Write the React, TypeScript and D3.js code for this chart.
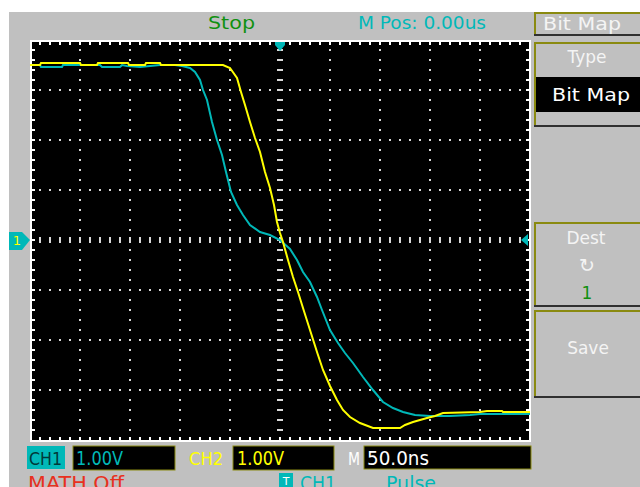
import React from 'react';
import * as d3 from 'd3';

// CH1 trace (cyan): time in ns, level in volts
const ch1Time = [-250, -240, -239, -218, -217, -180, -178, -160, -158, -153, -140, -130, -120, -105, -98, -90, -85, -80, -77, -73, -68, -63, -58, -54, -49, -43, -37, -30, -20, -10, 0, 10, 17, 23, 30, 37, 42, 50, 58, 65, 73, 83, 93, 103, 113, 123, 135, 150, 170, 190, 200, 250];
const ch1Volts = [3.5, 3.5, 3.46, 3.46, 3.5, 3.5, 3.46, 3.46, 3.5, 3.48, 3.46, 3.48, 3.5, 3.5, 3.48, 3.44, 3.36, 3.2, 3.0, 2.8, 2.36, 2.0, 1.7, 1.36, 0.96, 0.7, 0.5, 0.3, 0.16, 0.1, 0, -0.18, -0.4, -0.64, -0.84, -1.14, -1.4, -1.8, -2.06, -2.26, -2.46, -2.74, -3.0, -3.24, -3.36, -3.44, -3.5, -3.52, -3.52, -3.5, -3.48, -3.48];

// CH2 trace (yellow)
const ch2Time = [-250, -240, -239, -200, -199, -183, -182, -152, -151, -135, -134, -120, -119, -57, -50, -43, -39, -35, -30, -25, -20, -15, -10, -6, -3, 0, 3, 8, 13, 18, 23, 30, 37, 43, 50, 57, 63, 70, 80, 93, 120, 125, 133, 140, 147, 155, 163, 200, 207, 222, 223, 250];
const ch2Volts = [3.5, 3.5, 3.54, 3.54, 3.5, 3.5, 3.54, 3.54, 3.5, 3.5, 3.54, 3.54, 3.5, 3.5, 3.44, 3.24, 2.96, 2.7, 2.36, 2.04, 1.76, 1.36, 1.04, 0.7, 0.36, 0.14, -0.04, -0.4, -0.74, -1.04, -1.36, -1.8, -2.24, -2.6, -2.92, -3.2, -3.4, -3.54, -3.66, -3.76, -3.76, -3.7, -3.64, -3.6, -3.56, -3.52, -3.46, -3.44, -3.42, -3.42, -3.44, -3.44];

const timeDomain = [-250, 250]; // 50ns/div, 10 div
const voltDomain = [-4, 4]; // 1.00V/div, 8 div

const GREY = '#c0c0c0';
const CYAN = '#00b8b8';
const YELLOW = '#ffff00';
const OLIVE = '#8a8a10';
const DOT = '#d8d8d8';
const FONT = '"DejaVu Sans", sans-serif';

const x = d3.scaleLinear().domain(timeDomain).range([30, 530]);
const y = d3.scaleLinear().domain(voltDomain).range([440, 40]);

const line = d3.line<[number, number]>()
  .x(d => x(d[0]))
  .y(d => y(d[1]));

const ch1 = ch1Time.map((t, i) => [t, ch1Volts[i]] as [number, number]);
const ch2 = ch2Time.map((t, i) => [t, ch2Volts[i]] as [number, number]);

function Grid() {
  const xs = d3.range(-200, 251, 50).filter(v => v !== 0 && v !== 250);
  const ys = d3.range(-3, 4, 1).filter(v => v !== 0);
  const xSteps = d3.range(-240, 241, 10);
  const ySteps = d3.range(-3.8, 3.81, 0.2);
  const marks: JSX.Element[] = [];
  xs.forEach(gx => ySteps.forEach((v, i) =>
    marks.push(<rect key={`v${gx}-${i}`} x={x(gx) - 1} y={y(v) - 1} width={2} height={2} fill={DOT} />)));
  ys.forEach(gy => xSteps.forEach(t =>
    marks.push(<rect key={`h${gy}-${t}`} x={x(t) - 1} y={y(gy) - 1} width={2} height={2} fill={DOT} />)));
  // center axes
  xSteps.forEach(t =>
    marks.push(<rect key={`cx${t}`} x={x(t) - 1} y={y(0) - 3} width={2} height={6} fill={DOT} />));
  ySteps.forEach((v, i) =>
    marks.push(<rect key={`cy${i}`} x={x(0) - 3} y={y(v) - 1} width={6} height={2} fill={DOT} />));
  // border ticks
  xSteps.forEach(t => {
    marks.push(<rect key={`tt${t}`} x={x(t) - 1} y={40} width={2} height={5} fill="#fff" />);
    marks.push(<rect key={`tb${t}`} x={x(t) - 1} y={437} width={2} height={5} fill="#fff" />);
  });
  ySteps.forEach((v, i) => {
    marks.push(<rect key={`tl${i}`} x={30} y={y(v) - 1} width={5} height={2} fill="#fff" />);
    marks.push(<rect key={`tr${i}`} x={526} y={y(v) - 1} width={5} height={2} fill="#fff" />);
  });
  return <g>{marks}</g>;
}

function MenuBox({ top, height }: { top: number; height: number }) {
  return (
    <g>
      <rect x={534} y={top} width={106} height={height} fill={GREY} />
      <line x1={535} y1={top} x2={535} y2={top + height} stroke={OLIVE} strokeWidth={2} />
      <line x1={534} y1={top + 1} x2={640} y2={top + 1} stroke={OLIVE} strokeWidth={2} />
      <line x1={534} y1={top + height} x2={640} y2={top + height} stroke="#303030" strokeWidth={2} />
    </g>
  );
}

export default function App() {
  return (
    <svg width={640} height={487} style={{ position: 'absolute', left: 0, top: 0 }}
      fontFamily={FONT}>
      <rect x={0} y={0} width={640} height={487} fill="#fff" />
      <rect x={9} y={12} width={631} height={475} fill={GREY} />

      {/* header */}
      <text x={208} y={29} fontSize={18} fill="#109010" textLength={47} lengthAdjust="spacingAndGlyphs">Stop</text>
      <text x={358} y={29} fontSize={17} fill={CYAN} textLength={128} lengthAdjust="spacingAndGlyphs">M Pos: 0.00us</text>

      {/* screen */}
      <rect x={30} y={40} width={501} height={402} fill="#000" />
      <Grid />
      <line x1={30} y1={41} x2={531} y2={41} stroke="#fff" strokeWidth={2} />
      <line x1={30} y1={441} x2={531} y2={441} stroke="#fff" strokeWidth={2} />
      <line x1={31} y1={40} x2={31} y2={442} stroke="#fff" strokeWidth={2} />
      <line x1={530} y1={40} x2={530} y2={442} stroke="#fff" strokeWidth={2} />

      <path d={line(ch1) ?? ''} fill="none" stroke={CYAN} strokeWidth={2} strokeLinejoin="miter" />
      <path d={line(ch2) ?? ''} fill="none" stroke={YELLOW} strokeWidth={2} strokeLinejoin="miter" />

      {/* markers */}
      <path d={`M${x(0) - 5},42 L${x(0) + 5},42 L${x(0) + 5},45 L${x(0)},51 L${x(0) - 5},45 Z`} fill={CYAN} />
      <path d={`M521,${y(0)} L528,${y(0) - 6} L528,${y(0) + 6} Z`} fill={CYAN} />
      <path d={`M9,232 L22,232 L30,${y(0)} L22,250 L9,250 Z`} fill={CYAN} />
      <text x={17} y={y(0) + 5} fontSize={13} fill={YELLOW} textAnchor="middle">1</text>

      {/* right menu */}
      <MenuBox top={12} height={23} />
      <text x={543} y={30} fontSize={17} fill="#f4f4f4" textLength={78} lengthAdjust="spacingAndGlyphs">Bit Map</text>
      <MenuBox top={42} height={84} />
      <text x={587} y={63} fontSize={17} fill="#f4f4f4" textAnchor="middle">Type</text>
      <rect x={536} y={77} width={104} height={35} fill="#000" />
      <text x={552} y={101} fontSize={17} fill="#fff" textLength={78} lengthAdjust="spacingAndGlyphs">Bit Map</text>
      <MenuBox top={222} height={84} />
      <text x={586} y={244} fontSize={17} fill="#f4f4f4" textAnchor="middle">Dest</text>
      <text x={587} y={272} fontSize={19} fill="#f4f4f4" textAnchor="middle">↻</text>
      <text x={587} y={299} fontSize={17} fill="#109010" textAnchor="middle">1</text>
      <MenuBox top={310} height={87} />
      <text x={588} y={354} fontSize={17} fill="#f4f4f4" textAnchor="middle">Save</text>

      {/* status bar */}
      <rect x={27} y={446} width={38} height={23} fill={CYAN} />
      <text x={29} y={465} fontSize={18} fill="#003838" textLength={33} lengthAdjust="spacingAndGlyphs">CH1</text>
      <rect x={73} y={446} width={102} height={24} fill="#000" stroke={OLIVE} strokeWidth={1} />
      <text x={76} y={465} fontSize={19} fill={CYAN} textLength={47} lengthAdjust="spacingAndGlyphs">1.00V</text>
      <text x={189} y={465} fontSize={18} fill={YELLOW} textLength={34} lengthAdjust="spacingAndGlyphs">CH2</text>
      <rect x={233} y={446} width={101} height={24} fill="#000" stroke={OLIVE} strokeWidth={1} />
      <text x={237} y={465} fontSize={19} fill={YELLOW} textLength={47} lengthAdjust="spacingAndGlyphs">1.00V</text>
      <text x={348} y={465} fontSize={17} fill="#fff" textLength={12} lengthAdjust="spacingAndGlyphs">M</text>
      <rect x={364} y={446} width={167} height={23} fill="#000" stroke={OLIVE} strokeWidth={1} />
      <text x={367} y={465} fontSize={19} fill="#fff" textLength={62} lengthAdjust="spacingAndGlyphs">50.0ns</text>

      <text x={28} y={490} fontSize={19} fill="#e83020" textLength={96} lengthAdjust="spacingAndGlyphs">MATH Off</text>
      <rect x={279} y={473} width={14} height={14} fill={CYAN} />
      <text x={286} y={485} fontSize={11} fill="#fff" textAnchor="middle">T</text>
      <text x={300} y={490} fontSize={19} fill={CYAN} textLength={36} lengthAdjust="spacingAndGlyphs">CH1</text>
      <text x={386} y={490} fontSize={19} fill={CYAN} textLength={50} lengthAdjust="spacingAndGlyphs">Pulse</text>
    </svg>
  );
}
